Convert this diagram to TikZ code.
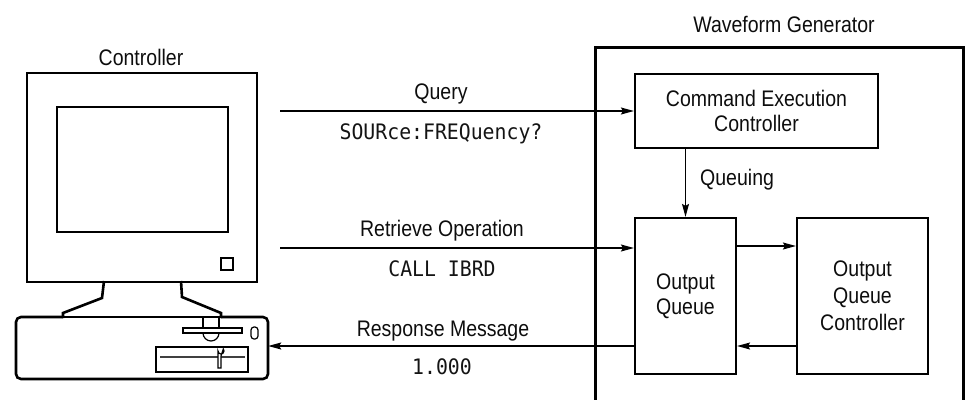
\documentclass[tikz,border=0pt]{standalone}
\usepackage{fontspec}
\setmainfont{Liberation Sans}[FakeStretch=0.867]
\setmonofont{DejaVu Sans Mono}[FakeStretch=0.93]
\usetikzlibrary{arrows.meta}
\begin{document}
\begin{tikzpicture}[x=1pt,y=-1pt,
  lbl/.style={font=\fontsize{22.5}{25}\selectfont, inner sep=0, text=black!95},
  code/.style={font=\ttfamily\fontsize{21.3}{24}\selectfont, inner sep=0, text=black!92},
  block/.style={draw, line width=2.2, align=center, inner sep=0,
    font=\fontsize{22.5}{25}\selectfont, text=black!95},
  link/.style={line width=1.2, -{Stealth[length=13,width=7,inset=2]}},
  heavy/.style={line width=2.6, line join=miter},
  fine/.style={line width=1.2}]
\useasboundingbox (0,0) rectangle (971,399);

% ---- controller (PC) ----
\node[lbl, anchor=base] (ctrltitle) at (141,65) {Controller};
\node[inner sep=0, minimum width=230, minimum height=209] (monitor) at (142,177.5) {};
\node[inner sep=0, minimum width=252, minimum height=62] (base) at (142,348) {};
\draw[heavy] (27,73) rectangle (257,282);
\draw[heavy, rounded corners=5] (16,317) rectangle (268,379);
\draw[white, line width=3.2] (104,282) -- (181,282);
\draw[white, line width=3.2] (63,317) -- (221,317);
\draw[fine] (104,282) -- (181,282);
\draw[fine] (63,317) -- (221,317);
% neck
\draw[heavy] (104,281) -- (102,298) -- (63,313) -- (63,318);
\draw[heavy] (181,281) -- (182,297) -- (221,313) -- (221,318);
% screen and button
\draw[fine] (57,107) rectangle (228,232);
\draw[fine] (221,258) rectangle (233,270);
% floppy slot
\draw[fine] (203,317) -- (203,328);
\draw[fine] (219,317) -- (219,328);
\draw[fine] (183,328) rectangle (242,333);
\draw[fine] (203,333) arc (180:0:8);
% indicator lamp
\draw[fine, rounded corners=3] (251,327) rectangle (258,339);
% drive bay
\draw[fine] (156,347) rectangle (248,372);
\draw[line width=1.6, black!75] (160,357) -- (245,357);
\draw[fine, fill=white] (218,368) -- (218,351) arc (180:-40:3) -- (221,356) -- (221,368) -- cycle;

% ---- waveform generator ----
\node[lbl, anchor=base] (wgtitle) at (784,32) {Waveform Generator};
\draw[line width=3, line join=miter] (595,401) -- (595,47) -- (963,47) -- (963,401);

\node[block, minimum width=243, minimum height=74] (cec) at (756.5,111)
  {Command Execution\\Controller};
\node[block, minimum width=101, minimum height=156] (oq) at (685.5,296)
  {Output\\Queue};
\node[block, minimum width=131, minimum height=156,
  font=\fontsize{22.5}{27}\selectfont] (oqc) at (862.5,296)
  {Output\\Queue\\Controller};

% ---- message paths ----
\coordinate (qstart) at (280,111);
\coordinate (rstart) at (280,248);
\draw[link] (qstart) -- (cec.west |- qstart);
\draw[link] (rstart) -- (oq.west |- rstart);
\draw[link] (oq.west |- 0,346) -- (base.east |- 0,346);
\draw[link] (oq.north |- cec.south) -- (oq.north);
\draw[link] (oq.east |- 0,246) -- (oqc.west |- 0,246);
\draw[link] (oqc.west |- 0,346) -- (oq.east |- 0,346);

\node[lbl, anchor=base] (querylbl) at (441,99) {Query};
\node[code, anchor=base] (querycmd) at (441,139) {SOURce:FREQuency?};
\node[lbl, anchor=base] (retrlbl) at (442,236) {Retrieve Operation};
\node[code, anchor=base] (retrcmd) at (442,276) {CALL IBRD};
\node[lbl, anchor=base] (resplbl) at (443,336) {Response Message};
\node[code, anchor=base] (respval) at (442,374) {1.000};
\node[lbl, anchor=base west] (queuelbl) at (700,185) {Queuing};
\end{tikzpicture}
\end{document}
